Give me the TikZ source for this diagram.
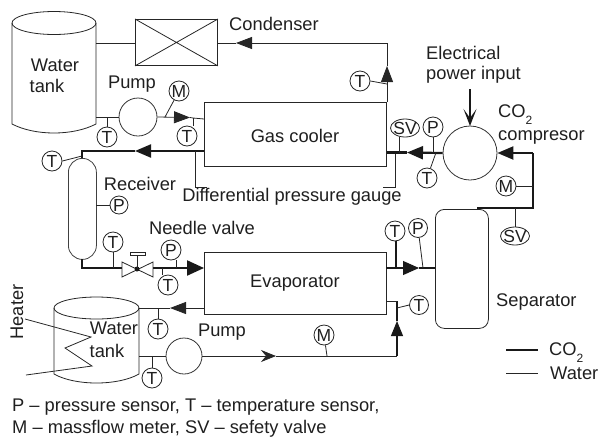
\documentclass[tikz,border=0pt]{standalone}
\usepackage{fontspec}
\setmainfont{Liberation Sans}
\usetikzlibrary{arrows.meta,shapes.geometric}
\newcommand{\cotwo}{CO\raisebox{-7pt}{\fontsize{12}{12}\selectfont 2}}
\tikzset{
  every node/.style={font=\fontsize{18.3}{20}\selectfont,text=black!88,inner sep=0pt},
  water/.style={line width=0.8pt,draw=black!85},
  co2/.style={line width=2.2pt,draw=black!90},
  mid/.style={line width=1.1pt,draw=black!90},
  sensor/.style={circle,draw=black!85,line width=0.8pt,minimum size=20pt,font=\fontsize{17.5}{17}\selectfont},
  svnode/.style={ellipse,draw=black!85,line width=0.8pt,minimum width=29pt,minimum height=18pt,inner sep=-4pt,font=\fontsize{17.5}{17}\selectfont},
  box/.style={rectangle,draw=black!85,line width=0.9pt,anchor=north west},
  pumpc/.style={circle,draw=black!80,line width=0.8pt},
  headb/.style={-{Triangle[length=16pt,width=13pt]}},
  heads/.style={-{Triangle[length=16pt,width=12pt]}},
  lab/.style={anchor=west},
}
\begin{document}
\begin{tikzpicture}[x=1pt,y=-1pt]
\useasboundingbox (0,0) rectangle (599,437);
% Upper water tank
\draw[water,fill=white] (12,23) -- (12,124) .. controls (35,136) and (73,136) .. (96,124) -- (96,23);
\draw[water] (54,23) ellipse [x radius=42,y radius=11.5];
\node at (55,65) {Water};
\node at (47,86) {tank};
% Condenser
\node[box,minimum width=82pt,minimum height=46pt] (cond) at (135,19) {};
\draw[water] (cond.north west) -- (cond.south east) (cond.north east) -- (cond.south west);
\node[lab] at (229,24) {Condenser};
% Coolers
\node[box,minimum width=182pt,minimum height=64pt] (gc) at (204,102) {};
\node at (295,136) {Gas cooler};
\node[box,minimum width=182pt,minimum height=62pt] (ev) at (204,252) {};
\node at (295,283) {Evaporator};
% Pumps and compressor
\node[pumpc,minimum size=38pt] (p1) at (138,117) {};
\node[pumpc,minimum size=36pt] (p2) at (184,356) {};
\node[pumpc,minimum size=54pt] (comp) at (470,153) {};
\node at (132,84) {Pump};
\node at (222,332) {Pump};
% Separator and receiver
\node[rectangle,rounded corners=9pt,draw=black!85,line width=0.8pt,minimum width=53pt,minimum height=119pt,anchor=north west] (sep) at (435,209) {};
\node[lab] at (496,302) {Separator};
\node[rectangle,rounded corners=13.9pt,draw=black!75,line width=0.8pt,minimum width=28pt,minimum height=101pt,anchor=north west] (rec) at (68,158) {};
\node at (140,184) {Receiver};
% Lower water tank
\draw[water] (54,308) -- (54,374) .. controls (75,386) and (118,386) .. (139,374) -- (139,308);
\draw[water] (96.5,308) ellipse [x radius=42.5,y radius=11];
\node at (114,328) {Water};
\node at (107,351) {tank};
\coordinate (c1) at (25,319);\coordinate (c2) at (91,337);\coordinate (c3) at (65,348);\coordinate (c4) at (92,366);\coordinate (c5) at (26,375);
\draw[water] (c1) -- (c2) -- (c3) -- (c4) -- (c5);
\node[rotate=90] at (17,312) {Heater};
% Sensors
\node[sensor] (t1) at (360,81) {T};
\node[sensor] (m1) at (179,91) {M};
\node[sensor] (t2) at (107,137) {T};
\node[sensor] (t3) at (187,136) {T};
\node[sensor] (t4) at (52,161) {T};
\node[sensor,minimum size=18pt] (p3) at (119,205) {P};
\node[svnode] (sv1) at (405,128) {SV};
\node[sensor] (p4) at (433,127) {P};
\node[sensor] (t5) at (427,178) {T};
\node[sensor] (m2) at (506,186) {M};
\node[svnode] (sv2) at (515,236) {SV};
\node[sensor] (t6) at (113,242) {T};
\node[sensor] (p5) at (171,250) {P};
\node[sensor] (t7) at (168,285) {T};
\node[sensor] (t8) at (395,231) {T};
\node[sensor,minimum size=19pt] (p6) at (418,228) {P};
\node[sensor,minimum size=19pt] (t9) at (419,305) {T};
\node[sensor] (m3) at (324,335) {M};
\node[sensor] (t10) at (158,329) {T};
\node[sensor] (t11) at (152,378) {T};
% Upper water loop
\coordinate (a0) at (96,43);\coordinate (a1) at (135,43);
\coordinate (a2) at (217,43);\coordinate (a3) at (236,43);\coordinate (a4) at (387,43);
\coordinate (a5) at (387,66);\coordinate (a6) at (387,84);\coordinate (a7) at (387,102);
\draw[water] (a0) -- (a1);
\draw[water,heads] (a4) -- (a3);
\draw[water] (a3) -- (a2);
\draw[water] (a7) -- (a6);
\draw[water,heads] (a6) -- (a5);
\draw[water] (a5) -- (a4);
\draw[water] (t1.east) -- (a6);
\coordinate (b0) at (96,117);\coordinate (b1) at (107,117);\coordinate (b2) at (165,117);
\coordinate (b3) at (190,117.5);\coordinate (b4) at (193,118);\coordinate (b5) at (204,119);
\draw[water] (b0) -- (p1.west);
\draw[water] (t2.north) -- (b1);
\draw[water,heads] (p1.east) -- (b3);
\draw[water] (b3) -- (b4) -- (b5);
\draw[water] (m1) -- (b2);
\draw[water] (t3.north -| b4) -- (b4);
% CO2 top line
\coordinate (k0) at (204,151);\coordinate (k1) at (135,151);\coordinate (k2) at (82,151);\coordinate (k3) at (82,158);
\coordinate (k4) at (82,156);
\draw[co2,headb] (k0) -- (k1);
\draw[co2] (k1) -- (k2) -- (k3);
\draw[water] (t4.east) -- (k4);
% Receiver pressure tap
\coordinate (r0) at (96,205);
\draw[water] (r0) -- (p3.west);
% Differential gauge
\coordinate (d0) at (195,151);\coordinate (d1) at (195,187);\coordinate (d2) at (207,187);
\coordinate (d3) at (395,152);\coordinate (d4) at (395,187);\coordinate (d5) at (383,187);
\draw[water] (d0) -- (d1) -- (d2);
\draw[water] (d3) -- (d4) -- (d5);
\node at (292,197) {Differential pressure gauge};
% Compressor lines
\coordinate (e0) at (387,152.5);\coordinate (e1) at (407,152.5);\coordinate (e2) at (399,152.5);\coordinate (e3) at (433,152.5);\coordinate (e4) at (436,152.5);
\draw[co2,headb] (comp.west) -- (e1);
\draw[co2] (e1) -- (e0);
\draw[water] (sv1.south -| e2) -- (e2);
\draw[water] (p4) -- (e3);
\draw[water] (t5) -- (e4);
\coordinate (f0) at (533,153);\coordinate (f1) at (533,186);\coordinate (f2) at (533,208);\coordinate (f3) at (477,208);\coordinate (f4) at (515,208);
\draw[co2,headb] (f0) -- (comp.east);
\draw[co2] (f0) -- (f1) -- (f2) -- (f3);
\draw[water] (m2.east) -- (f1);
\draw[water] (sv2.north) -- (f4);
% Power input
\coordinate (w0) at (470,89);\coordinate (w1) at (470,126);
\draw[line width=1.6pt,draw=black!90,-{Stealth[length=17pt,width=13pt,inset=9pt]}] (w0) -- (w1);
\node[lab] at (426,53) {Electrical};
\node[lab] at (426,75) {power input};
\node[lab] at (498,115) {\cotwo};
\node[lab] at (498,137) {compresor};
% Receiver to evaporator
\coordinate (g0) at (82,259);\coordinate (g1) at (82,268);\coordinate (g2) at (122,268);\coordinate (g3) at (153,268);
\coordinate (g4) at (204,268);\coordinate (g5) at (113,268);\coordinate (g6) at (176,268);\coordinate (g7) at (162,268);
\draw[co2] (g0) -- (g1) -- (g2);
\draw[co2,-{Triangle[length=17pt,width=15pt]}] (g3) -- (g4);
\draw[water] (t6.south) -- (g5);
\draw[water] (p5.south -| g6) -- (g6);
\draw[water] (t7.north -| g7) -- (g7);
% Needle valve
\coordinate (v) at (137,269);
\draw[water] (122,262) -- (153,277) -- (153,262) -- (122,277) -- cycle;
\fill[black!90] (v) circle (2.5pt);
\draw[water] (v) -- (137,255);
\draw[water] (130,252) rectangle (145,255);
\node at (202,228) {Needle valve};
% Evaporator outlet
\coordinate (h0) at (386,268);\coordinate (h1) at (396,268);\coordinate (h2) at (419,268);\coordinate (h3) at (423,268);
\draw[mid,-{Triangle[length=16pt,width=14pt]}] (h0) -- (h2);
\draw[mid] (h2) -- (sep.west |- h2);
\draw[mid] (t8.south -| h1) -- (h1);
\draw[water] (p6) -- (h3);
% Lower water loop
\coordinate (i0) at (204,308);\coordinate (i1) at (170,308);\coordinate (i2) at (139,308);\coordinate (i3) at (158,308);
\draw[water,heads] (i0) -- (i1);
\draw[water] (i1) -- (i2);
\draw[water] (t10.north) -- (i3);
\coordinate (j0) at (139,356);\coordinate (j1) at (152,356);\coordinate (j2) at (276,356);\coordinate (j3) at (327,356);\coordinate (j4) at (397,356);
\coordinate (j5) at (397,321);\coordinate (j6) at (397,308);\coordinate (j7) at (397,301);\coordinate (j8) at (386,301);
\draw[water] (j0) -- (p2.west);
\draw[water] (t11.north) -- (j1);
\draw[water,-{Stealth[length=15pt,width=12pt,inset=5pt]}] (p2.east) -- (j2);
\draw[water] (j2) -- (j4);
\draw[water] (m3) -- (j3);
\draw[mid,-{Triangle[length=15pt,width=12pt]}] (j4) -- (j5);
\draw[mid] (j5) -- (j7);
\draw[water] (j7) -- (j8);
\draw[water] (t9.west) -- (j6);
% Legend
\coordinate (l0) at (506,350);\coordinate (l1) at (538,350);\coordinate (l2) at (506,373);\coordinate (l3) at (538,373);
\draw[co2] (l0) -- (l1);
\draw[water] (l2) -- (l3);
\node[lab] at (549,353) {\cotwo};
\node[lab] at (550,373) {Water};
% Caption
\node[lab] at (12,407) {P -- pressure sensor, T -- temperature sensor,};
\node[lab] at (12,429) {M -- massflow meter, SV -- sefety valve};
\end{tikzpicture}
\end{document}
